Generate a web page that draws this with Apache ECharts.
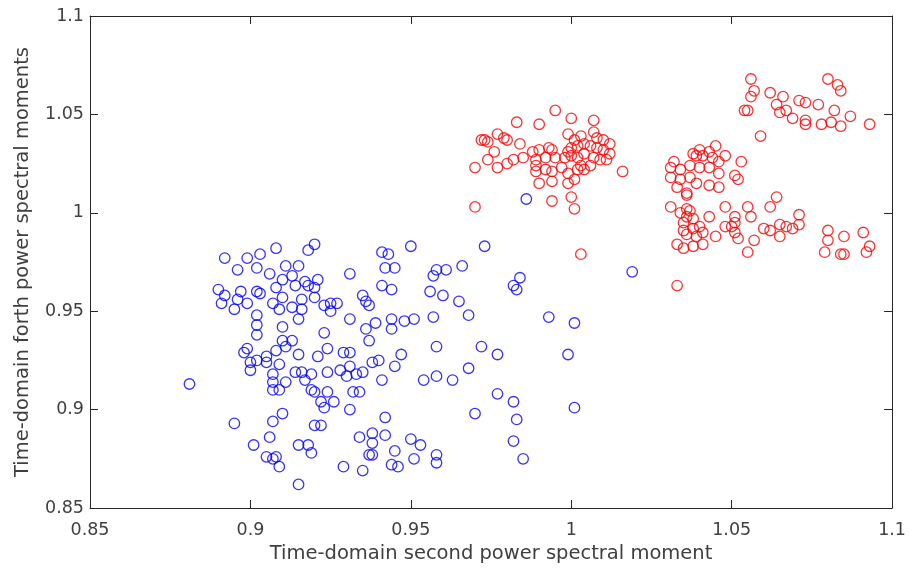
<!DOCTYPE html>
<html>
<head>
<meta charset="utf-8">
<script src="https://cdn.jsdelivr.net/npm/echarts@6/dist/echarts.min.js"></script>
<style>
  html, body { margin: 0; padding: 0; background: #fff; }
  #main { width: 909px; height: 574px; }
</style>
</head>
<body>
<div id="main"></div>
<script>
// axis settings
var xMin = 0.85, xMax = 1.1, xStep = 0.05;
var yMin = 0.85, yMax = 1.1, yStep = 0.05;
var xName = 'Time-domain second power spectral moment';
var yName = 'Time-domain forth power spectral moments';

// class 1 (blue circles): [second moment, forth moment]
var blueClass = [
  [0.892,0.977],[0.899,0.977],[0.903,0.979],[0.908,0.982],[0.918,0.981],[0.920,0.984],
  [0.896,0.971],[0.902,0.972],[0.906,0.969],[0.911,0.973],[0.915,0.973],[0.931,0.969],
  [0.890,0.961],[0.892,0.958],[0.891,0.954],[0.895,0.951],[0.897,0.960],[0.896,0.956],[0.899,0.954],
  [0.902,0.960],[0.903,0.959],[0.908,0.962],[0.910,0.966],[0.910,0.957],[0.907,0.954],[0.909,0.951],
  [0.913,0.968],[0.914,0.963],[0.917,0.965],[0.918,0.963],[0.920,0.962],[0.921,0.966],
  [0.916,0.956],[0.913,0.952],[0.916,0.951],[0.915,0.946],[0.920,0.957],[0.923,0.953],[0.925,0.954],[0.927,0.954],[0.925,0.950],
  [0.935,0.958],[0.936,0.955],[0.902,0.948],[0.902,0.943],[0.902,0.938],[0.910,0.942],[0.923,0.939],[0.931,0.946],[0.936,0.941],
  [0.899,0.931],[0.898,0.929],[0.910,0.935],[0.913,0.935],[0.911,0.932],[0.908,0.930],[0.915,0.928],[0.924,0.931],[0.921,0.927],
  [0.929,0.929],[0.931,0.929],[0.905,0.927],[0.902,0.925],
  [0.881,0.913],[0.900,0.924],[0.900,0.920],[0.905,0.924],[0.909,0.923],[0.907,0.918],[0.907,0.914],[0.909,0.910],[0.907,0.910],
  [0.911,0.914],[0.914,0.919],[0.916,0.919],[0.919,0.918],[0.917,0.915],[0.924,0.919],[0.928,0.920],[0.931,0.922],[0.930,0.917],
  [0.933,0.918],[0.935,0.919],
  [0.919,0.910],[0.920,0.909],[0.924,0.909],[0.922,0.904],[0.926,0.904],[0.923,0.901],[0.931,0.900],[0.932,0.909],[0.934,0.909],
  [0.895,0.893],[0.907,0.894],[0.910,0.898],[0.906,0.886],[0.901,0.882],[0.905,0.876],[0.907,0.875],[0.908,0.876],[0.909,0.871],
  [0.920,0.892],[0.922,0.892],[0.915,0.882],[0.918,0.882],[0.919,0.878],[0.934,0.886],[0.929,0.871],[0.935,0.869],[0.915,0.862],
  [0.941,0.980],[0.943,0.979],[0.950,0.983],[0.973,0.983],[0.942,0.972],[0.945,0.972],[0.958,0.971],[0.957,0.968],[0.961,0.971],
  [0.966,0.973],[0.982,0.963],[0.983,0.961],[0.984,0.967],
  [0.941,0.963],[0.944,0.961],[0.937,0.953],[0.956,0.960],[0.960,0.958],[0.965,0.955],[0.968,0.948],[0.957,0.947],[0.944,0.946],
  [0.944,0.941],[0.948,0.945],[0.951,0.946],[0.939,0.944],[0.937,0.935],[0.993,0.947],[1.001,0.944],
  [0.958,0.932],[0.972,0.932],[0.977,0.928],[0.999,0.928],[0.947,0.928],[0.940,0.925],[0.938,0.924],[0.945,0.922],[0.968,0.921],
  [0.941,0.915],[0.954,0.915],[0.958,0.917],[0.963,0.915],[0.977,0.908],[0.982,0.904],[1.001,0.901],[0.970,0.898],[0.983,0.895],
  [0.942,0.896],[0.938,0.888],[0.942,0.887],[0.938,0.883],[0.937,0.877],[0.938,0.877],[0.945,0.879],[0.950,0.885],[0.953,0.882],
  [0.951,0.875],[0.944,0.872],[0.946,0.871],[0.958,0.877],[0.958,0.873],[0.982,0.884],[0.985,0.875],
  [0.986,1.007],[1.019,0.970]
];

// class 2 (red circles)
var redClass = [
  [0.995,1.052],[1.000,1.048],[1.007,1.047],[0.983,1.046],[0.990,1.045],[0.977,1.040],[0.972,1.037],[0.973,1.037],[0.974,1.036],
  [0.979,1.038],[0.980,1.037],[0.984,1.035],[0.976,1.031],[0.974,1.027],[0.977,1.023],[0.980,1.025],[0.982,1.027],[0.970,1.023],
  [0.970,1.003],[0.985,1.028],[0.988,1.031],[0.989,1.027],[0.990,1.032],[0.993,1.033],[0.994,1.032],[0.995,1.028],[0.992,1.028],
  [0.989,1.024],[0.989,1.021],[0.992,1.022],[0.994,1.021],[0.990,1.015],[0.994,1.016],[0.997,1.023],[0.998,1.028],[0.999,1.040],
  [1.001,1.037],[1.003,1.039],[1.007,1.041],[1.008,1.038],[1.010,1.037],[1.012,1.035],[1.000,1.033],[1.002,1.034],[1.004,1.035],
  [1.006,1.034],[1.008,1.033],[1.010,1.032],[1.012,1.030],[1.000,1.029],[1.002,1.028],[1.004,1.030],[1.007,1.028],[1.009,1.027],
  [1.011,1.027],[1.003,1.024],[1.006,1.024],[1.004,1.022],[0.999,1.020],[1.001,1.017],[0.999,1.015],[1.002,1.022],[1.016,1.021],
  [0.994,1.006],[1.000,1.008],[1.001,1.002],[0.999,1.031],[1.003,0.979],[1.033,0.963],
  [1.056,1.068],[1.057,1.062],[1.056,1.059],[1.054,1.052],[1.055,1.052],[1.059,1.039],[1.062,1.061],[1.066,1.059],[1.064,1.055],
  [1.067,1.052],[1.065,1.051],[1.069,1.048],[1.071,1.057],[1.073,1.056],[1.077,1.055],[1.073,1.047],[1.073,1.045],[1.078,1.045],
  [1.081,1.046],[1.082,1.052],[1.084,1.044],[1.087,1.049],[1.080,1.068],[1.083,1.065],[1.084,1.062],[1.093,1.045],
  [1.045,1.034],[1.043,1.031],[1.040,1.032],[1.038,1.030],[1.039,1.029],[1.041,1.029],[1.044,1.028],[1.046,1.026],[1.048,1.029],
  [1.032,1.026],[1.031,1.023],[1.034,1.022],[1.037,1.024],[1.040,1.023],[1.043,1.023],[1.046,1.020],[1.053,1.026],[1.031,1.018],
  [1.034,1.017],[1.037,1.018],[1.039,1.015],[1.043,1.014],[1.046,1.013],[1.033,1.013],[1.036,1.010],[1.036,1.009],[1.051,1.019],
  [1.052,1.017],
  [1.031,1.003],[1.034,1.000],[1.036,1.002],[1.037,1.001],[1.036,0.998],[1.038,0.997],[1.035,0.995],[1.035,0.991],[1.038,0.992],
  [1.040,0.993],[1.041,0.990],[1.043,0.998],[1.039,0.988],[1.036,0.989],[1.033,0.984],[1.035,0.982],[1.038,0.983],[1.041,0.984],
  [1.045,0.988],[1.048,1.003],[1.051,0.998],[1.051,0.995],[1.050,0.993],[1.048,0.993],[1.051,0.990],[1.052,0.987],[1.055,1.003],
  [1.056,0.998],[1.057,0.986],[1.055,0.980],[1.060,0.992],[1.062,1.003],[1.064,1.008],[1.062,0.991],[1.065,0.994],[1.065,0.988],
  [1.067,0.993],[1.069,0.992],[1.071,0.999],[1.071,0.994],[1.080,0.991],[1.080,0.986],[1.079,0.980],[1.085,0.988],[1.084,0.979],
  [1.085,0.979],[1.091,0.990],[1.093,0.983],[1.092,0.980]
];

var chart = echarts.init(document.getElementById('main'));
var axisColor = '#262626';
var textStyle = { color: '#404040', fontFamily: 'DejaVu Sans, sans-serif' };

function fmt(v) { return String(+v.toFixed(2)); }

var option = {
  animation: false,
  grid: { left: 90, top: 16, right: 13, bottom: 66, containLabel: false },
  xAxis: [
    {
      type: 'value', min: xMin, max: xMax, interval: xStep, position: 'bottom',
      name: xName, nameLocation: 'middle', nameGap: 31,
      nameTextStyle: Object.assign({ fontSize: 19.5 }, textStyle),
      axisLine: { show: true, lineStyle: { color: axisColor, width: 1 } },
      axisTick: { show: true, inside: true, length: 8, lineStyle: { color: axisColor } },
      axisLabel: Object.assign({ fontSize: 17.5, margin: 13, formatter: fmt }, textStyle),
      splitLine: { show: false }
    },
    {
      type: 'value', min: xMin, max: xMax, interval: xStep, position: 'top',
      axisLine: { show: true, lineStyle: { color: axisColor, width: 1 } },
      axisTick: { show: true, inside: true, length: 8, lineStyle: { color: axisColor } },
      axisLabel: { show: false },
      splitLine: { show: false }
    }
  ],
  yAxis: [
    {
      type: 'value', min: yMin, max: yMax, interval: yStep, position: 'left',
      name: yName, nameLocation: 'middle', nameGap: 57,
      nameTextStyle: Object.assign({ fontSize: 19.5 }, textStyle),
      axisLine: { show: true, lineStyle: { color: axisColor, width: 1 } },
      axisTick: { show: true, inside: true, length: 8, lineStyle: { color: axisColor } },
      axisLabel: Object.assign({ fontSize: 17.5, margin: 6, formatter: fmt }, textStyle),
      splitLine: { show: false }
    },
    {
      type: 'value', min: yMin, max: yMax, interval: yStep, position: 'right',
      axisLine: { show: true, lineStyle: { color: axisColor, width: 1 } },
      axisTick: { show: true, inside: true, length: 8, lineStyle: { color: axisColor } },
      axisLabel: { show: false },
      splitLine: { show: false }
    }
  ],
  series: [
    {
      type: 'scatter', data: blueClass, symbol: 'circle', symbolSize: 10.5,
      itemStyle: { color: 'rgba(0,0,0,0)', borderColor: '#0000ff', borderWidth: 1.3 }
    },
    {
      type: 'scatter', data: redClass, symbol: 'circle', symbolSize: 10.5,
      itemStyle: { color: 'rgba(0,0,0,0)', borderColor: '#ff0000', borderWidth: 1.3 }
    }
  ]
};
chart.setOption(option);
</script>
</body>
</html>
